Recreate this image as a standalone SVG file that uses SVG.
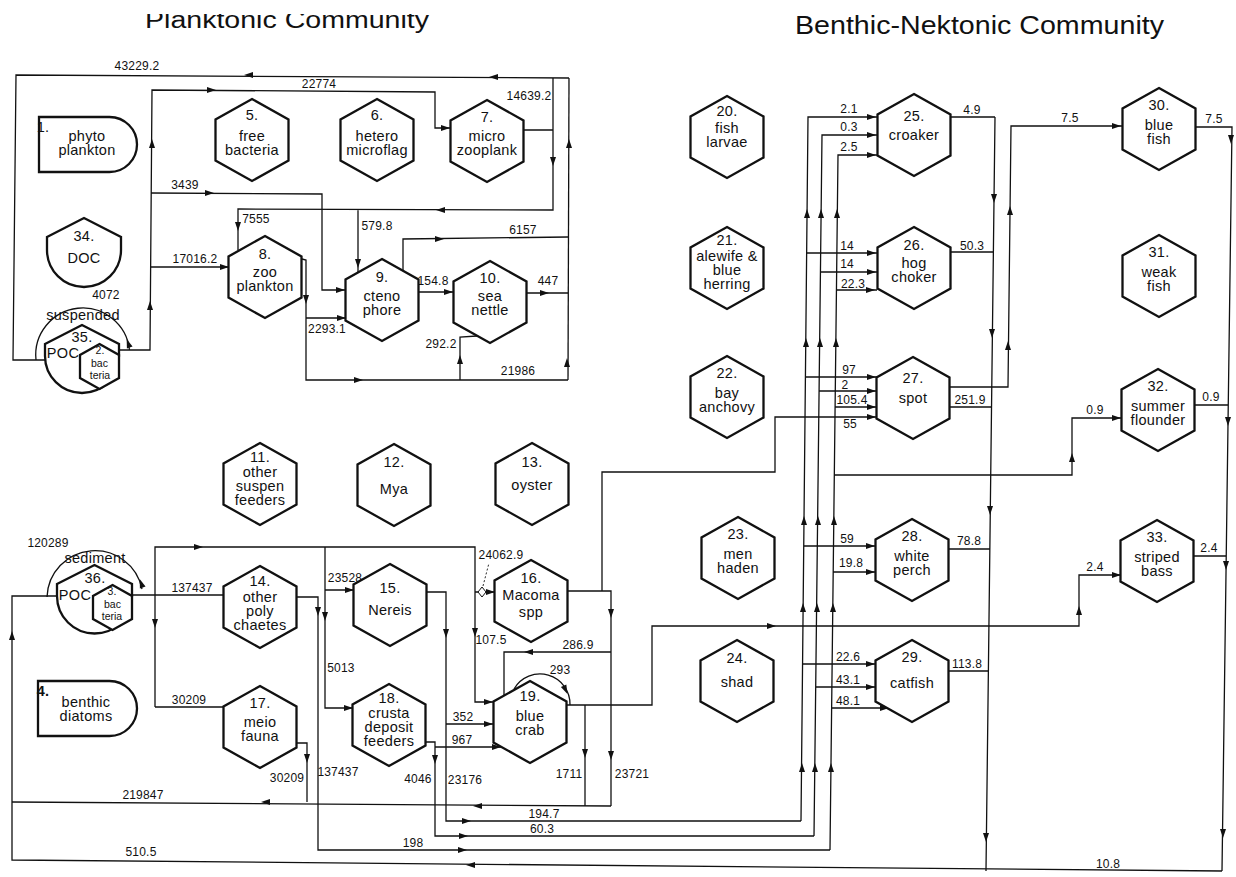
<svg xmlns="http://www.w3.org/2000/svg" width="1236" height="877" viewBox="0 0 1236 877">
<defs>
<style>
.n{fill:#fff;stroke:#111;stroke-width:2.3;stroke-linejoin:miter}
.c{fill:none;stroke:#111;stroke-width:1.3}
.t{font-family:"Liberation Sans",Arial,sans-serif;font-size:14.5px;letter-spacing:0.3px;text-anchor:middle;fill:#111}
.i{font-family:"Liberation Sans",Arial,sans-serif;font-size:10.5px;text-anchor:middle;fill:#111}
.l{font-family:"Liberation Sans",Arial,sans-serif;font-size:12px;letter-spacing:0.2px;text-anchor:middle;fill:#111}
.h{font-family:"Liberation Sans",Arial,sans-serif;fill:#111}
</style>
<path id="hx" d="M0,-41 L36.5,-20.5 L36.5,20.5 L0,41 L-36.5,20.5 L-36.5,-20.5Z"/>
<path id="ar" d="M1,0 L-8,-3 L-8,3Z" fill="#111"/>
<clipPath id="tc"><rect x="0" y="14" width="640" height="30"/></clipPath>
</defs>
<rect width="1236" height="877" fill="#fff"/>

<g id="titles">
<text class="h" x="145" y="28" font-size="23" textLength="284" lengthAdjust="spacingAndGlyphs" clip-path="url(#tc)">Planktonic Community</text>
<text class="h" x="795" y="34" font-size="25" textLength="369" lengthAdjust="spacingAndGlyphs">Benthic-Nektonic Community</text>
</g>

<g id="connectors">
<path class="c" d="M569,78 L16,75 L13,360 L45,360"/>
<path class="c" d="M568,380 L569,78"/>
<path class="c" d="M524,130 L553,130 M553,78 L553,210 L238,209 L238,250 M358,209 L358,273"/>
<path class="c" d="M119,350 L150,350 L152,90 L435,92 L435,128 L451,128"/>
<path class="c" d="M151,193 L322,194 L322,290 L346,290"/>
<path class="c" d="M151,267 L229,267"/>
<path class="c" d="M302,259 L306,260 L306,380 L568,380 M306,318 L346,318"/>
<path class="c" d="M460,380 L460,337 L477,336"/>
<path class="c" d="M403,271 L403,239 L568,237"/>
<path class="c" d="M417,292 L454,292 M526,293 L568,293"/>
<path class="c" d="M36,360 A47,47 0 0 1 129.5,350"/>
<path class="c" d="M1222,871 L12,860 L12,596 L57,596"/>
<path class="c" d="M611,806 L12,802"/>
<path class="c" d="M132,595 L224,595"/>
<path class="c" d="M155,707 L155,547 L475,547 L475,702 L494,702 M475,592 L495,592 M155,707 L224,707"/>
<path class="c" d="M325,547 L325,708 L353,708 M325,590 L354,590"/>
<path class="c" d="M297,597 L318,597 L318,850 L830,850"/>
<path class="c" d="M297,743 L307,743 L307,802"/>
<path class="c" d="M427,592 L446,592 L446,821 L801,821 M446,724 L494,724"/>
<path class="c" d="M425,742 L435,742 L435,836 L814,836 M435,747 L501,747"/>
<path class="c" d="M568,591 L611,591 L611,806 M611,652 L504,652 L504,696"/>
<path class="c" d="M602,591 L602,472 L775,472 L775,417 L877,417"/>
<path class="c" d="M566,705 L652,705 L652,626 L1079,626 L1079,575 L1121,575"/>
<path class="c" d="M585,705 L585,806"/>
<path class="c" d="M47,597 A48,48 0 0 1 142,589"/>
<path class="c" d="M514,689 A30,30 0 0 1 570,705"/>
<path d="M482,587 L486,592 L482,597 L478,592Z" fill="#fff" stroke="#111" stroke-width="1"/>
<path d="M483,586 L489,563" fill="none" stroke="#111" stroke-width="0.9" stroke-dasharray="2,2"/>
<path class="c" d="M801,821 L808,117 L877,117 M807,253 L877,253 M805,377 L877,377 M804,546 L876,546 M803,664 L876,664"/>
<path class="c" d="M814,836 L822,135 L877,135 M820,272 L877,272 M819,391 L877,391 M816,687 L876,687"/>
<path class="c" d="M830,850 L838,155 L877,155 M836,290 L877,290 M835,407 L877,407 M834,475 L1072,475 L1072,418 L1122,418 M833,572 L876,572 M832,708 L889,708"/>
<path class="c" d="M995,117 L986,871 M951,117 L995,117 M951,252 L994,252 M949,407 L992,407 M949,549 L990,549 M948,671 L989,671"/>
<path class="c" d="M949,387 L1008,387 L1011,126 L1123,126"/>
<path class="c" d="M1195,127 L1232,127 L1222,871 M1194,405 L1228,405 M1192,556 L1226,556"/>

<use href="#ar" transform="translate(245,75) rotate(180)"/>
<use href="#ar" transform="translate(490,77) rotate(180)"/>
<use href="#ar" transform="translate(569,140) rotate(-90)"/>
<use href="#ar" transform="translate(567,359) rotate(-90)"/>
<use href="#ar" transform="translate(553,165) rotate(90)"/>
<use href="#ar" transform="translate(437,210) rotate(180)"/>
<use href="#ar" transform="translate(238,230) rotate(90)"/>
<use href="#ar" transform="translate(358,267) rotate(90)"/>
<use href="#ar" transform="translate(152,140) rotate(-90)"/>
<use href="#ar" transform="translate(150,302) rotate(-90)"/>
<use href="#ar" transform="translate(215,90)"/>
<use href="#ar" transform="translate(449,128)"/>
<use href="#ar" transform="translate(213,193)"/>
<use href="#ar" transform="translate(344,290)"/>
<use href="#ar" transform="translate(228,267)"/>
<use href="#ar" transform="translate(306,303) rotate(90)"/>
<use href="#ar" transform="translate(345,318)"/>
<use href="#ar" transform="translate(362,380)"/>
<use href="#ar" transform="translate(460,356) rotate(-90)"/>
<use href="#ar" transform="translate(443,239)"/>
<use href="#ar" transform="translate(452,292)"/>
<use href="#ar" transform="translate(548,293)"/>
<use href="#ar" transform="translate(127,340) rotate(-110)"/>
<use href="#ar" transform="translate(140,580) rotate(-110)"/>
<use href="#ar" transform="translate(567,693) rotate(65)"/>
<use href="#ar" transform="translate(12,632) rotate(-90)"/>
<use href="#ar" transform="translate(467,865) rotate(180)"/>
<use href="#ar" transform="translate(262,802) rotate(180)"/>
<use href="#ar" transform="translate(474,806) rotate(180)"/>
<use href="#ar" transform="translate(155,627) rotate(90)"/>
<use href="#ar" transform="translate(202,547)"/>
<use href="#ar" transform="translate(475,636) rotate(90)"/>
<use href="#ar" transform="translate(492,702)"/>
<use href="#ar" transform="translate(494,592)"/>
<use href="#ar" transform="translate(325,620) rotate(90)"/>
<use href="#ar" transform="translate(352,708)"/>
<use href="#ar" transform="translate(353,590)"/>
<use href="#ar" transform="translate(318,615) rotate(90)"/>
<use href="#ar" transform="translate(466,850)"/>
<use href="#ar" transform="translate(307,762) rotate(90)"/>
<use href="#ar" transform="translate(446,637) rotate(90)"/>
<use href="#ar" transform="translate(492,724)"/>
<use href="#ar" transform="translate(470,821)"/>
<use href="#ar" transform="translate(435,763) rotate(90)"/>
<use href="#ar" transform="translate(500,747)"/>
<use href="#ar" transform="translate(467,836)"/>
<use href="#ar" transform="translate(611,617) rotate(90)"/>
<use href="#ar" transform="translate(611,759) rotate(90)"/>
<use href="#ar" transform="translate(525,652) rotate(180)"/>
<use href="#ar" transform="translate(585,757) rotate(90)"/>
<use href="#ar" transform="translate(875,417)"/>
<use href="#ar" transform="translate(775,626)"/>
<use href="#ar" transform="translate(1079,607) rotate(-90)"/>
<use href="#ar" transform="translate(1120,575)"/>
<use href="#ar" transform="translate(875,117)"/>
<use href="#ar" transform="translate(875,135)"/>
<use href="#ar" transform="translate(875,155)"/>
<use href="#ar" transform="translate(875,253)"/>
<use href="#ar" transform="translate(875,272)"/>
<use href="#ar" transform="translate(874,290)"/>
<use href="#ar" transform="translate(875,377)"/>
<use href="#ar" transform="translate(875,391)"/>
<use href="#ar" transform="translate(875,407)"/>
<use href="#ar" transform="translate(874,546)"/>
<use href="#ar" transform="translate(874,572)"/>
<use href="#ar" transform="translate(874,664)"/>
<use href="#ar" transform="translate(874,687)"/>
<use href="#ar" transform="translate(888,708)"/>
<use href="#ar" transform="translate(1120,418)"/>
<use href="#ar" transform="translate(1072,454) rotate(-90)"/>
<use href="#ar" transform="translate(807,210) rotate(-90)"/>
<use href="#ar" transform="translate(806,339) rotate(-90)"/>
<use href="#ar" transform="translate(804,517) rotate(-90)"/>
<use href="#ar" transform="translate(803,604) rotate(-90)"/>
<use href="#ar" transform="translate(802,764) rotate(-90)"/>
<use href="#ar" transform="translate(821,210) rotate(-90)"/>
<use href="#ar" transform="translate(820,339) rotate(-90)"/>
<use href="#ar" transform="translate(818,517) rotate(-90)"/>
<use href="#ar" transform="translate(817,604) rotate(-90)"/>
<use href="#ar" transform="translate(815,764) rotate(-90)"/>
<use href="#ar" transform="translate(837,210) rotate(-90)"/>
<use href="#ar" transform="translate(836,339) rotate(-90)"/>
<use href="#ar" transform="translate(834,517) rotate(-90)"/>
<use href="#ar" transform="translate(833,604) rotate(-90)"/>
<use href="#ar" transform="translate(831,764) rotate(-90)"/>
<use href="#ar" transform="translate(994,202) rotate(90)"/>
<use href="#ar" transform="translate(992,337) rotate(90)"/>
<use href="#ar" transform="translate(990,514) rotate(90)"/>
<use href="#ar" transform="translate(986,841) rotate(90)"/>
<use href="#ar" transform="translate(1010,207) rotate(-90)"/>
<use href="#ar" transform="translate(1008,342) rotate(-90)"/>
<use href="#ar" transform="translate(1120,126)"/>
<use href="#ar" transform="translate(1231,143) rotate(90)"/>
<use href="#ar" transform="translate(1228,425) rotate(90)"/>
<use href="#ar" transform="translate(1226,569) rotate(90)"/>
<use href="#ar" transform="translate(1223,837) rotate(90)"/>
</g>

<g id="flow-labels">
<text class="l" x="137" y="70">43229.2</text>
<text class="l" x="319" y="88">22774</text>
<text class="l" x="529" y="100">14639.2</text>
<text class="l" x="185" y="189">3439</text>
<text class="l" x="256" y="223">7555</text>
<text class="l" x="377" y="230">579.8</text>
<text class="l" x="195" y="263">17016.2</text>
<text class="l" x="523" y="234">6157</text>
<text class="l" x="433" y="285">154.8</text>
<text class="l" x="548" y="285">447</text>
<text class="l" x="327" y="333">2293.1</text>
<text class="l" x="441" y="348">292.2</text>
<text class="l" x="518" y="375">21986</text>
<text class="l" x="106" y="299">4072</text>
<text class="l" x="48" y="547">120289</text>
<text class="l" x="192" y="592">137437</text>
<text class="l" x="189" y="704">30209</text>
<text class="l" x="345" y="582">23528</text>
<text class="l" x="341" y="672">5013</text>
<text class="l" x="501" y="559">24062.9</text>
<text class="l" x="491" y="644">107.5</text>
<text class="l" x="338" y="776">137437</text>
<text class="l" x="287" y="782">30209</text>
<text class="l" x="418" y="783">4046</text>
<text class="l" x="465" y="784">23176</text>
<text class="l" x="143" y="799">219847</text>
<text class="l" x="141" y="856">510.5</text>
<text class="l" x="463" y="721">352</text>
<text class="l" x="462" y="744">967</text>
<text class="l" x="560" y="674">293</text>
<text class="l" x="578" y="649">286.9</text>
<text class="l" x="569" y="778">1711</text>
<text class="l" x="632" y="778">23721</text>
<text class="l" x="544" y="818">194.7</text>
<text class="l" x="542" y="833">60.3</text>
<text class="l" x="413" y="847">198</text>
<text class="l" x="1108" y="868">10.8</text>
<text class="l" x="849" y="113">2.1</text>
<text class="l" x="849" y="131">0.3</text>
<text class="l" x="849" y="151">2.5</text>
<text class="l" x="847" y="250">14</text>
<text class="l" x="847" y="268">14</text>
<text class="l" x="853" y="288">22.3</text>
<text class="l" x="849" y="374">97</text>
<text class="l" x="845" y="389">2</text>
<text class="l" x="852" y="404">105.4</text>
<text class="l" x="850" y="428">55</text>
<text class="l" x="847" y="543">59</text>
<text class="l" x="851" y="567">19.8</text>
<text class="l" x="848" y="661">22.6</text>
<text class="l" x="848" y="684">43.1</text>
<text class="l" x="848" y="705">48.1</text>
<text class="l" x="972" y="114">4.9</text>
<text class="l" x="972" y="250">50.3</text>
<text class="l" x="970" y="404">251.9</text>
<text class="l" x="969" y="545">78.8</text>
<text class="l" x="967" y="668">113.8</text>
<text class="l" x="1070" y="122">7.5</text>
<text class="l" x="1214" y="123">7.5</text>
<text class="l" x="1095" y="414">0.9</text>
<text class="l" x="1211" y="401">0.9</text>
<text class="l" x="1209" y="552">2.4</text>
<text class="l" x="1095" y="571">2.4</text>
</g>

<g id="n1"><path class="n" d="M39,117 H109.5 A27.5,27.5 0 0 1 109.5,172 H39 Z"/><text class="t" x="43" y="132" font-size="13" text-anchor="start">1.</text><text class="t" x="87" y="141">phyto</text><text class="t" x="87" y="155">plankton</text></g>
<g id="n4"><path class="n" d="M38,681 H109.5 A27.5,27.5 0 0 1 109.5,736 H38 Z"/><text class="t" x="43" y="696" font-size="13" font-weight="bold" text-anchor="start">4.</text><text class="t" x="86" y="707">benthic</text><text class="t" x="86" y="721">diatoms</text></g>
<g id="n34"><path class="n" d="M47,237 L84,218 L121,237 L121,250 A37,37 0 0 1 47,250 Z"/><text class="t" x="84" y="241">34.</text><text class="t" x="84" y="263">DOC</text></g>
<g id="n35"><text class="t" x="83" y="320">suspended</text><path class="n" d="M45,344 L82,325 L119,344 L119,356 A37,37 0 0 1 45,356 Z"/><path class="n" d="M99.5,344 L119,355 L119,378 L99.5,389 L80,378 L80,355 Z"/><text class="t" x="82" y="342">35.</text><text class="t" x="63" y="358" font-size="14">POC</text><text class="i" x="100" y="354" font-size="9">2.</text><text class="i" x="99.5" y="367">bac</text><text class="i" x="100" y="379">teria</text></g>
<g id="n36"><text class="t" x="95" y="563">sediment</text><path class="n" d="M57,584 L94.5,565 L132,584 L132,596 A37.5,37.5 0 0 1 57,596 Z"/><path class="n" d="M112.5,585 L132,596 L132,619 L112.5,630 L93,619 L93,596 Z"/><text class="t" x="95" y="583">36.</text><text class="t" x="75" y="600" font-size="14">POC</text><text class="i" x="112" y="595" font-size="9">3.</text><text class="i" x="112.5" y="608">bac</text><text class="i" x="112" y="620">teria</text></g>

<g id="n5"><use href="#hx" class="n" x="252" y="140"/><text class="t" x="252" y="120">5.</text><text class="t" x="252" y="141">free</text><text class="t" x="252" y="155">bacteria</text></g>
<g id="n6"><use href="#hx" class="n" x="377" y="140"/><text class="t" x="377" y="120">6.</text><text class="t" x="377" y="141">hetero</text><text class="t" x="377" y="155">microflag</text></g>
<g id="n7"><use href="#hx" class="n" x="487" y="141"/><text class="t" x="487" y="122">7.</text><text class="t" x="487" y="141">micro</text><text class="t" x="487" y="155">zooplank</text></g>
<g id="n8"><use href="#hx" class="n" x="265" y="277"/><text class="t" x="265" y="259">8.</text><text class="t" x="265" y="277">zoo</text><text class="t" x="265" y="291">plankton</text></g>
<g id="n9"><use href="#hx" class="n" x="382" y="300"/><text class="t" x="382" y="282">9.</text><text class="t" x="382" y="301">cteno</text><text class="t" x="382" y="315">phore</text></g>
<g id="n10"><use href="#hx" class="n" x="490" y="302"/><text class="t" x="490" y="283">10.</text><text class="t" x="490" y="301">sea</text><text class="t" x="490" y="315">nettle</text></g>
<g id="n11"><use href="#hx" class="n" x="260" y="484"/><text class="t" x="260" y="462">11.</text><text class="t" x="260" y="477">other</text><text class="t" x="260" y="491">suspen</text><text class="t" x="260" y="505">feeders</text></g>
<g id="n12"><use href="#hx" class="n" x="394" y="485"/><text class="t" x="394" y="467">12.</text><text class="t" x="394" y="494">Mya</text></g>
<g id="n13"><use href="#hx" class="n" x="532" y="484"/><text class="t" x="532" y="467">13.</text><text class="t" x="532" y="490">oyster</text></g>
<g id="n14"><use href="#hx" class="n" x="260" y="607"/><text class="t" x="260" y="586">14.</text><text class="t" x="260" y="602">other</text><text class="t" x="260" y="616">poly</text><text class="t" x="260" y="630">chaetes</text></g>
<g id="n15"><use href="#hx" class="n" x="390" y="605"/><text class="t" x="390" y="593">15.</text><text class="t" x="390" y="615">Nereis</text></g>
<g id="n16"><use href="#hx" class="n" x="531" y="601"/><text class="t" x="531" y="583">16.</text><text class="t" x="531" y="600">Macoma</text><text class="t" x="531" y="617">spp</text></g>
<g id="n17"><use href="#hx" class="n" x="260" y="727"/><text class="t" x="260" y="708">17.</text><text class="t" x="260" y="727">meio</text><text class="t" x="260" y="741">fauna</text></g>
<g id="n18"><use href="#hx" class="n" x="389" y="725"/><text class="t" x="389" y="703">18.</text><text class="t" x="389" y="718">crusta</text><text class="t" x="389" y="732">deposit</text><text class="t" x="389" y="746">feeders</text></g>
<g id="n19"><use href="#hx" class="n" x="530" y="722"/><text class="t" x="530" y="701">19.</text><text class="t" x="530" y="721">blue</text><text class="t" x="530" y="735">crab</text></g>
<g id="n20"><use href="#hx" class="n" x="727" y="137"/><text class="t" x="727" y="116">20.</text><text class="t" x="727" y="133">fish</text><text class="t" x="727" y="147">larvae</text></g>
<g id="n21"><use href="#hx" class="n" x="727" y="268"/><text class="t" x="727" y="245">21.</text><text class="t" x="727" y="261">alewife &amp;</text><text class="t" x="727" y="275">blue</text><text class="t" x="727" y="289">herring</text></g>
<g id="n22"><use href="#hx" class="n" x="727" y="397"/><text class="t" x="727" y="378">22.</text><text class="t" x="727" y="398">bay</text><text class="t" x="727" y="412">anchovy</text></g>
<g id="n23"><use href="#hx" class="n" x="738" y="558"/><text class="t" x="738" y="539">23.</text><text class="t" x="738" y="559">men</text><text class="t" x="738" y="573">haden</text></g>
<g id="n24"><use href="#hx" class="n" x="737" y="681"/><text class="t" x="737" y="663">24.</text><text class="t" x="737" y="687">shad</text></g>
<g id="n25"><use href="#hx" class="n" x="914" y="135"/><text class="t" x="914" y="121">25.</text><text class="t" x="914" y="140">croaker</text></g>
<g id="n26"><use href="#hx" class="n" x="914" y="268"/><text class="t" x="914" y="250">26.</text><text class="t" x="914" y="268">hog</text><text class="t" x="914" y="282">choker</text></g>
<g id="n27"><use href="#hx" class="n" x="913" y="398"/><text class="t" x="913" y="383">27.</text><text class="t" x="913" y="403">spot</text></g>
<g id="n28"><use href="#hx" class="n" x="912" y="560"/><text class="t" x="912" y="541">28.</text><text class="t" x="912" y="561">white</text><text class="t" x="912" y="575">perch</text></g>
<g id="n29"><use href="#hx" class="n" x="912" y="681"/><text class="t" x="912" y="662">29.</text><text class="t" x="912" y="688">catfish</text></g>
<g id="n30"><use href="#hx" class="n" x="1159" y="129"/><text class="t" x="1159" y="110">30.</text><text class="t" x="1159" y="130">blue</text><text class="t" x="1159" y="144">fish</text></g>
<g id="n31"><use href="#hx" class="n" x="1159" y="276"/><text class="t" x="1159" y="257">31.</text><text class="t" x="1159" y="277">weak</text><text class="t" x="1159" y="291">fish</text></g>
<g id="n32"><use href="#hx" class="n" x="1158" y="410"/><text class="t" x="1158" y="391">32.</text><text class="t" x="1158" y="411">summer</text><text class="t" x="1158" y="425">flounder</text></g>
<g id="n33"><use href="#hx" class="n" x="1157" y="561"/><text class="t" x="1157" y="542">33.</text><text class="t" x="1157" y="562">striped</text><text class="t" x="1157" y="576">bass</text></g>
</svg>
